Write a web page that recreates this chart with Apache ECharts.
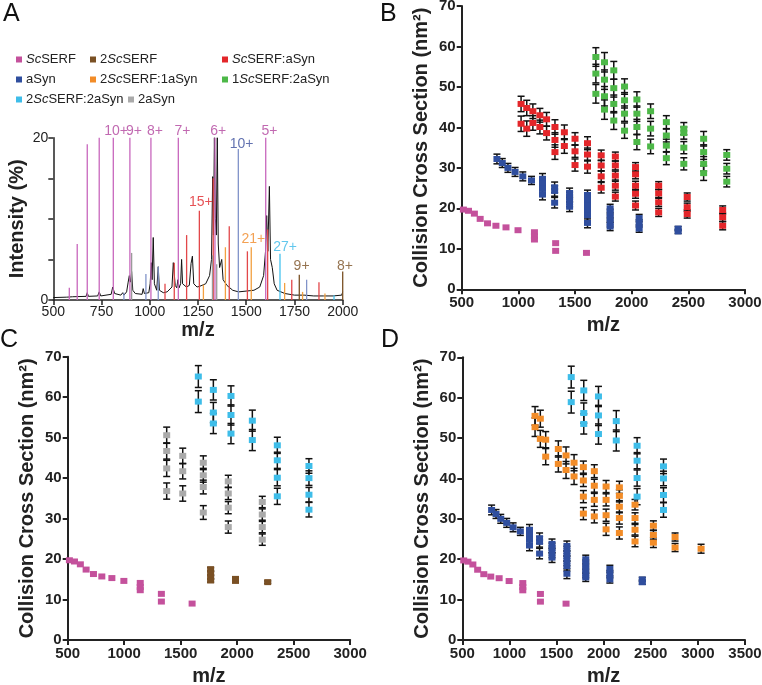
<!DOCTYPE html>
<html><head><meta charset="utf-8">
<script src="https://cdn.jsdelivr.net/npm/echarts@6/dist/echarts.min.js"></script>
<style>html,body{margin:0;padding:0;background:#fff}#c{width:762px;height:685px}</style>
</head><body><div id="c"></div>
<script>
// ---------------- Panel A: mass spectrum ----------------
const specTotal = [[500,0.3],[570,0.35],[600,0.4],[670,0.45],[676,0.9],[682,0.45],[730,0.5],[738,1.0],[746,0.5],[800,0.7],[808,1.6],[812,1.8],[818,0.8],[850,0.6],[860,0.9],[866,0.6],[880,1.0],[888,2.2],[894,3.0],[900,2.2],[906,3.5],[912,1.2],[925,0.8],[960,0.7],[966,1.4],[972,0.8],[995,0.9],[1002,2.0],[1008,4.6],[1012,2.5],[1018,7.7],[1024,2.0],[1036,1.2],[1044,4.1],[1050,1.2],[1070,0.9],[1090,1.0],[1115,1.6],[1122,4.6],[1126,4.8],[1132,1.8],[1140,1.5],[1146,2.5],[1152,1.5],[1160,2.0],[1165,5.0],[1170,2.0],[1190,1.6],[1205,1.8],[1214,4.5],[1221,5.4],[1228,2.0],[1245,1.6],[1260,1.7],[1290,2.0],[1310,3.0],[1320,5.0],[1326,15.2],[1330,8.0],[1335,20],[1340,10],[1345,8.0],[1350,20],[1355,6.9],[1362,4.0],[1373,5.0],[1380,2.5],[1400,1.8],[1430,1.2],[1460,1.0],[1500,1.1],[1540,1.2],[1570,1.6],[1590,3.0],[1600,6.0],[1606,10.4],[1612,6.0],[1620,14.0],[1626,5.0],[1635,4.0],[1645,2.0],[1660,1.2],[1700,0.8],[1750,0.6],[1800,0.6],[1850,0.5],[1900,0.5],[1950,0.5],[1995,0.6],[2000,1.0]];
const specScSERF = [[583,1.5],[624,6.9],[676,19.2],[738,20],[811,20],[897,20],[1006,20],[1148,20],[1338,20],[1601,20]];
const specASyn = [[866,0.9],[980,3.2],[1044,4.1],[1459,18.6],[1813,2.5]];
const specScASyn = [[1079,2.0],[1127,4.6],[1191,8.0],[1257,11.0],[1329,15.0],[1412,9.1],[1506,6.0],[1611,8.7],[1736,2.5],[1877,2.2]];
const spec2Sc1A = [[1278,1.9],[1392,6.5],[1526,6.5],[1699,2.1],[1792,1.0],[1908,0.8]];
const spec2Sc2A = [[1675,5.7],[1955,0.6]];
const spec2Sc = [[1775,3.1],[2000,3.5]];
const spec2A = [[906,5.8],[1325,5.5],[1347,4.4]];
// charge-state labels: [m/z, intensity, text]
const labScSERF = [[825,20.8,'10+'],[918,20.8,'9+'],[1027,20.8,'8+'],[1170,20.8,'7+'],[1355,20.8,'6+'],[1620,20.8,'5+']];
const labASyn = [[1476,19.2,'10+']];
const labScASyn = [[1265,12.0,'15+']];
const lab2Sc1A = [[1537,7.5,'21+']];
const lab2Sc2A = [[1701,6.5,'27+']];
const lab2Sc = [[1787,4.2,'9+'],[2012,4.2,'8+']];

// ---------------- Panels B-D: CCS vs m/z ----------------
const scserfMz = [515,560,612,663,728,802,891,997,1142,1329,1601];
const scserfCcs = [[19.7],[19.4],[18.7],[17.4],[16.3],[15.7],[15.3],[14.6],[14.1,13.1,12.3],[11.4,9.5],[9.0]];

const asynMz = [811,858,908,971,1039,1116,1213,1320,1452,1610,1810,2066,2410];
const asynCcs = [[32.2],[31.2],[30.0],[29.0],[27.9],[26.9],[27.3,26.1,24.8,23.4],[25.2,24.3,21.4],[23.8,22.8,21.6,20.4],[23.3,22.0,20.8,19.6,18.3,16.4],[20.0,18.8,17.6,16.4,15.5],[17.6,16.3,15.0],[15.0,14.3]];
const asynErr = [1.2,1.1,1.1,1.1,1.1,1.0,1.3,1.3,1.2,1.2,1.0,0.9,0.5];

const scAsynMz = [1024,1074,1128,1190,1249,1323,1406,1500,1610,1731,1856,2034,2238,2490,2803];
const scAsynCcs = [[45.8,40.9],[44.8,39.7],[44.0,41.1],[43.0,40.1],[42.0,38.6],[40.1,36.9,33.9],[38.8,35.4],[37.2,34.1,30.7],[36.1,33.3,30.3],[33.1,30.6,27.9,25.1],[32.8,30.6,28.1,25.6,22.9],[30.2,28.4,25.6,23.6,20.7],[25.6,23.7,21.5,19.0],[22.8,20.3,18.6],[19.6,17.8,15.7]];
const scAsynErr = [1.9,1.9,1.8,1.7,1.7,1.8,1.8,1.5,1.6,1.3,1.1,1.1,1.0,1.0,1.0];

const sc1A2Mz = [1684,1760,1842,1937,2046,2167,2306,2460,2635,2839];
const sc1A2Ccs = [[57.4,53.3,48.3],[56.1,51.8,47.7,44.4],[54.1,49.7,45.8,41.7],[50.1,46.7,43.4,39.2],[46.9,43.4,40.1,36.4],[44.0,39.7,35.3],[41.3,38.0,35.5,32.4],[39.7,38.6,35.0,31.0],[37.2,33.9,31.0,28.7],[33.2,29.8,26.6]];
const sc1A2Err = [2.3,2.4,2.2,1.9,1.9,1.8,1.6,1.5,1.8,1.3];

const a2Mz = [1376,1518,1700,1921,2222];
const a2Ccs = [[50.6,46.7,42.4,36.8],[45.5,41.7,36.2],[43.8,40.7,37.8,31.5],[39.2,36.2,32.7,27.9],[34.1,31.0,27.9,24.8]];
const a2Err = [2.0,1.9,1.7,1.5,1.4];

const sc2A2Mz = [1656,1789,1945,2134,2355,2635];
const sc2A2Ccs = [[65.1,58.9],[61.8,56.2,53.5],[60.3,55.6,51.0],[54.2,49.4],[48.1,44.4,40.1,35.5],[43.0,40.0,35.9,32.2]];
const sc2A2Err = [2.7,2.5,2.5,2.6,2.0,1.8];

const sc2Mz = [1765,1985,2270];
const sc2Ccs = [[17.5,16.5,15.5,14.7],[15.1,14.6],[14.3]];
const sc2Err = [0.4,0.3,0.3];

const sc2A1Mz = [1272,1328,1385,1519,1601,1686,1785,1901,2026,2167,2333,2528,2758,3034];
const sc2A1Ccs = [[55.5,52.7],[54.8,49.8],[49.6,45.4],[47.3,43.6],[45.7,42.1],[43.9,40.5],[42.8,39.5,35.5,31.3],[41.8,38.2,34.7,30.6],[38.0,34.7,30.9,27.4],[37.8,35.7,33.0,30.2,26.5],[33.5,30.2,27.3,24.4],[28.3,26.0,24.1],[25.5,22.9],[22.6]];
const sc2A1Err = [2.3,2.1,2.0,2.0,2.1,2.0,1.5,1.6,1.5,1.5,1.3,1.2,1.0,1.1];

const xTicksA = [500,2000,250];
const legendNames = ['ScSERF','2ScSERF','ScSERF:aSyn','aSyn','2ScSERF:1aSyn','1ScSERF:2aSyn','2ScSERF:2aSyn','2aSyn'];

// ---------------- styles ----------------
const F = 'Liberation Sans, Arial, Helvetica, sans-serif';
const COL = {'ScSERF':'#c4519c','2ScSERF':'#7a5024','ScSERF:aSyn':'#e3262a','aSyn':'#2f4e9e','2ScSERF:1aSyn':'#f28c28','1ScSERF:2aSyn':'#4db848','2ScSERF:2aSyn':'#3ebde9','2aSyn':'#aaaaaa'};
const STICK = {'ScSERF':'#c867bd','2ScSERF':'#7a5024','ScSERF:aSyn':'#e2474a','aSyn':'#8193c9','2ScSERF:1aSyn':'#f2a040','2ScSERF:2aSyn':'#45c2ee','2aSyn':'#9a9a9a'};
const LAB = {'ScSERF':'#b2449e','aSyn':'#3b4f9c','ScSERF:aSyn':'#e0262a','2ScSERF:1aSyn':'#f08a28','2ScSERF:2aSyn':'#3bb9e8','2ScSERF':'#7a5024'};

function pts(mz, ccs){const o=[];mz.forEach((m,i)=>ccs[i].forEach(v=>o.push([m,v])));return o;}
function bars(mz, ccs, err){const o=[];mz.forEach((m,i)=>ccs[i].forEach(v=>o.push([m,v-err[i],v+err[i]])));return o;}

function errRender(params, api){
  const x=api.value(0), lo=api.value(1), hi=api.value(2);
  const a=api.coord([x,hi]), b=api.coord([x,lo]); const hw=3.5;
  const st={stroke:'#111',lineWidth:1.5};
  return {type:'group',children:[
    {type:'line',shape:{x1:a[0],y1:a[1],x2:b[0],y2:b[1]},style:st},
    {type:'line',shape:{x1:a[0]-hw,y1:a[1],x2:a[0]+hw,y2:a[1]},style:st},
    {type:'line',shape:{x1:b[0]-hw,y1:b[1],x2:b[0]+hw,y2:b[1]},style:st}
  ]};
}
function stickRender(color){
  return function(params, api){
    const x=api.value(0), h=api.value(1);
    const a=api.coord([x,0]), b=api.coord([x,h]);
    return {type:'line',shape:{x1:a[0],y1:a[1],x2:b[0],y2:b[1]},style:{stroke:color,lineWidth:1.3}};
  };
}

const series = [];
function addGroup(g, name, mz, ccs, err){
  if (err) series.push({type:'custom',name:'err'+g+name,xAxisIndex:g,yAxisIndex:g,renderItem:errRender,encode:{x:0,y:[1,2]},data:bars(mz,ccs,err),z:2,silent:true});
  series.push({type:'scatter',name:name,xAxisIndex:g,yAxisIndex:g,symbol:'rect',symbolSize:[7,6],itemStyle:{color:COL[name],opacity:1},data:pts(mz,ccs),z:3,silent:true});
}
// Panel B (grid 1)
addGroup(1,'ScSERF',scserfMz,scserfCcs,null);
addGroup(1,'aSyn',asynMz,asynCcs,asynErr);
addGroup(1,'ScSERF:aSyn',scAsynMz,scAsynCcs,scAsynErr);
addGroup(1,'1ScSERF:2aSyn',sc1A2Mz,sc1A2Ccs,sc1A2Err);
// Panel C (grid 2)
addGroup(2,'ScSERF',scserfMz,scserfCcs,null);
addGroup(2,'2ScSERF',sc2Mz,sc2Ccs,sc2Err);
addGroup(2,'2aSyn',a2Mz,a2Ccs,a2Err);
addGroup(2,'2ScSERF:2aSyn',sc2A2Mz,sc2A2Ccs,sc2A2Err);
// Panel D (grid 3)
addGroup(3,'ScSERF',scserfMz,scserfCcs,null);
addGroup(3,'aSyn',asynMz,asynCcs,asynErr);
addGroup(3,'2ScSERF:1aSyn',sc2A1Mz,sc2A1Ccs,sc2A1Err);
addGroup(3,'2ScSERF:2aSyn',sc2A2Mz,sc2A2Ccs,sc2A2Err);

// Panel A (grid 0)
series.push({type:'line',name:'total',xAxisIndex:0,yAxisIndex:0,data:specTotal,showSymbol:false,symbol:'none',lineStyle:{color:'#111',width:1},z:2,silent:true});
[['ScSERF',specScSERF],['aSyn',specASyn],['ScSERF:aSyn',specScASyn],['2ScSERF:1aSyn',spec2Sc1A],['2ScSERF:2aSyn',spec2Sc2A],['2ScSERF',spec2Sc],['2aSyn',spec2A]].forEach(([n,d])=>{
  series.push({type:'custom',name:'spec'+n,xAxisIndex:0,yAxisIndex:0,renderItem:stickRender(STICK[n]),encode:{x:0,y:1},data:d,z:3,silent:true});
});
[['ScSERF',labScSERF],['aSyn',labASyn],['ScSERF:aSyn',labScASyn],['2ScSERF:1aSyn',lab2Sc1A],['2ScSERF:2aSyn',lab2Sc2A],['2ScSERF',lab2Sc]].forEach(([n,d])=>{
  series.push({type:'scatter',name:'lab'+n,xAxisIndex:0,yAxisIndex:0,symbolSize:0,clip:false,data:d,z:4,silent:true,
    label:{show:true,position:'inside',formatter:p=>p.value[2],color:LAB[n],fontSize:14,fontFamily:F}});
});

function axisBase(g, min, max, interval, bold, lw){
  return {type:'value',gridIndex:g,min:min,max:max,interval:interval,
    axisLine:{show:true,onZero:false,lineStyle:{color:'#222',width:lw}},
    axisTick:{show:true,length:5,lineStyle:{color:'#222',width:lw}},
    axisLabel:{fontSize:bold?15:14,fontWeight:bold?'bold':'normal',color:'#222',fontFamily:F,margin:bold?6:5,formatter:v=>String(v)},
    splitLine:{show:false},
    nameLocation:'middle',nameTextStyle:{fontSize:20,fontWeight:'bold',color:'#222',fontFamily:F}};
}
const xAxes=[], yAxes=[];
let ax = axisBase(0,xTicksA[0],xTicksA[1],xTicksA[2],false,1.5); ax.name='m/z'; ax.nameGap=20; xAxes.push(ax);
ax = axisBase(0,0,20,5,false,1.5); ax.name='Intensity (%)'; ax.nameGap=26; ax.axisLabel.formatter=v=>(v===0||v===20)?String(v):''; yAxes.push(ax);
[[1,3000],[2,3000],[3,3500]].forEach(([g,mx])=>{
  let xa=axisBase(g,500,mx,500,true,2); xa.name='m/z'; xa.nameGap=26; xAxes.push(xa);
  let ya=axisBase(g,0,70,10,true,2); ya.name='Collision Cross Section (nm²)'; ya.nameGap=30; yAxes.push(ya);
});

const legPos = [[16,53],[90,53],[222,53],[16,73],[90,73],[222,73],[16,93],[128,93]];
const legends = legendNames.map((n,i)=>({data:[n],left:legPos[i][0],top:legPos[i][1],padding:0,icon:'rect',itemWidth:6,itemHeight:6,itemGap:4,selectedMode:false,
  formatter:s=>s.replace('Sc','{i|Sc}'),
  textStyle:{fontSize:13,color:'#222',fontFamily:F,padding:[0,0,0,-1],rich:{i:{fontStyle:'italic',fontSize:13,color:'#222',fontFamily:F}}}}));

const letters = [['A',3,2],['B',380,2],['C',0,328],['D',381,328]].map(([t,x,y])=>({type:'text',left:x,top:y,style:{text:t,fontSize:25,fontFamily:F,fill:'#111'}}));

const chart = echarts.init(document.getElementById('c'),null,{renderer:'canvas'});
chart.setOption({
  animation:false,
  backgroundColor:'#fff',
  grid:[
    {left:53.3,top:137.7,width:289.4,height:162.3,outerBoundsMode:'none'},
    {left:461.7,top:6,width:283.3,height:283.3,outerBoundsMode:'none'},
    {left:67.7,top:356.7,width:282.5,height:283.3,outerBoundsMode:'none'},
    {left:462.3,top:357.3,width:282.7,height:282.7,outerBoundsMode:'none'}
  ],
  xAxis:xAxes, yAxis:yAxes,
  legend:legends,
  graphic:letters,
  series:series
});
</script></body></html>
